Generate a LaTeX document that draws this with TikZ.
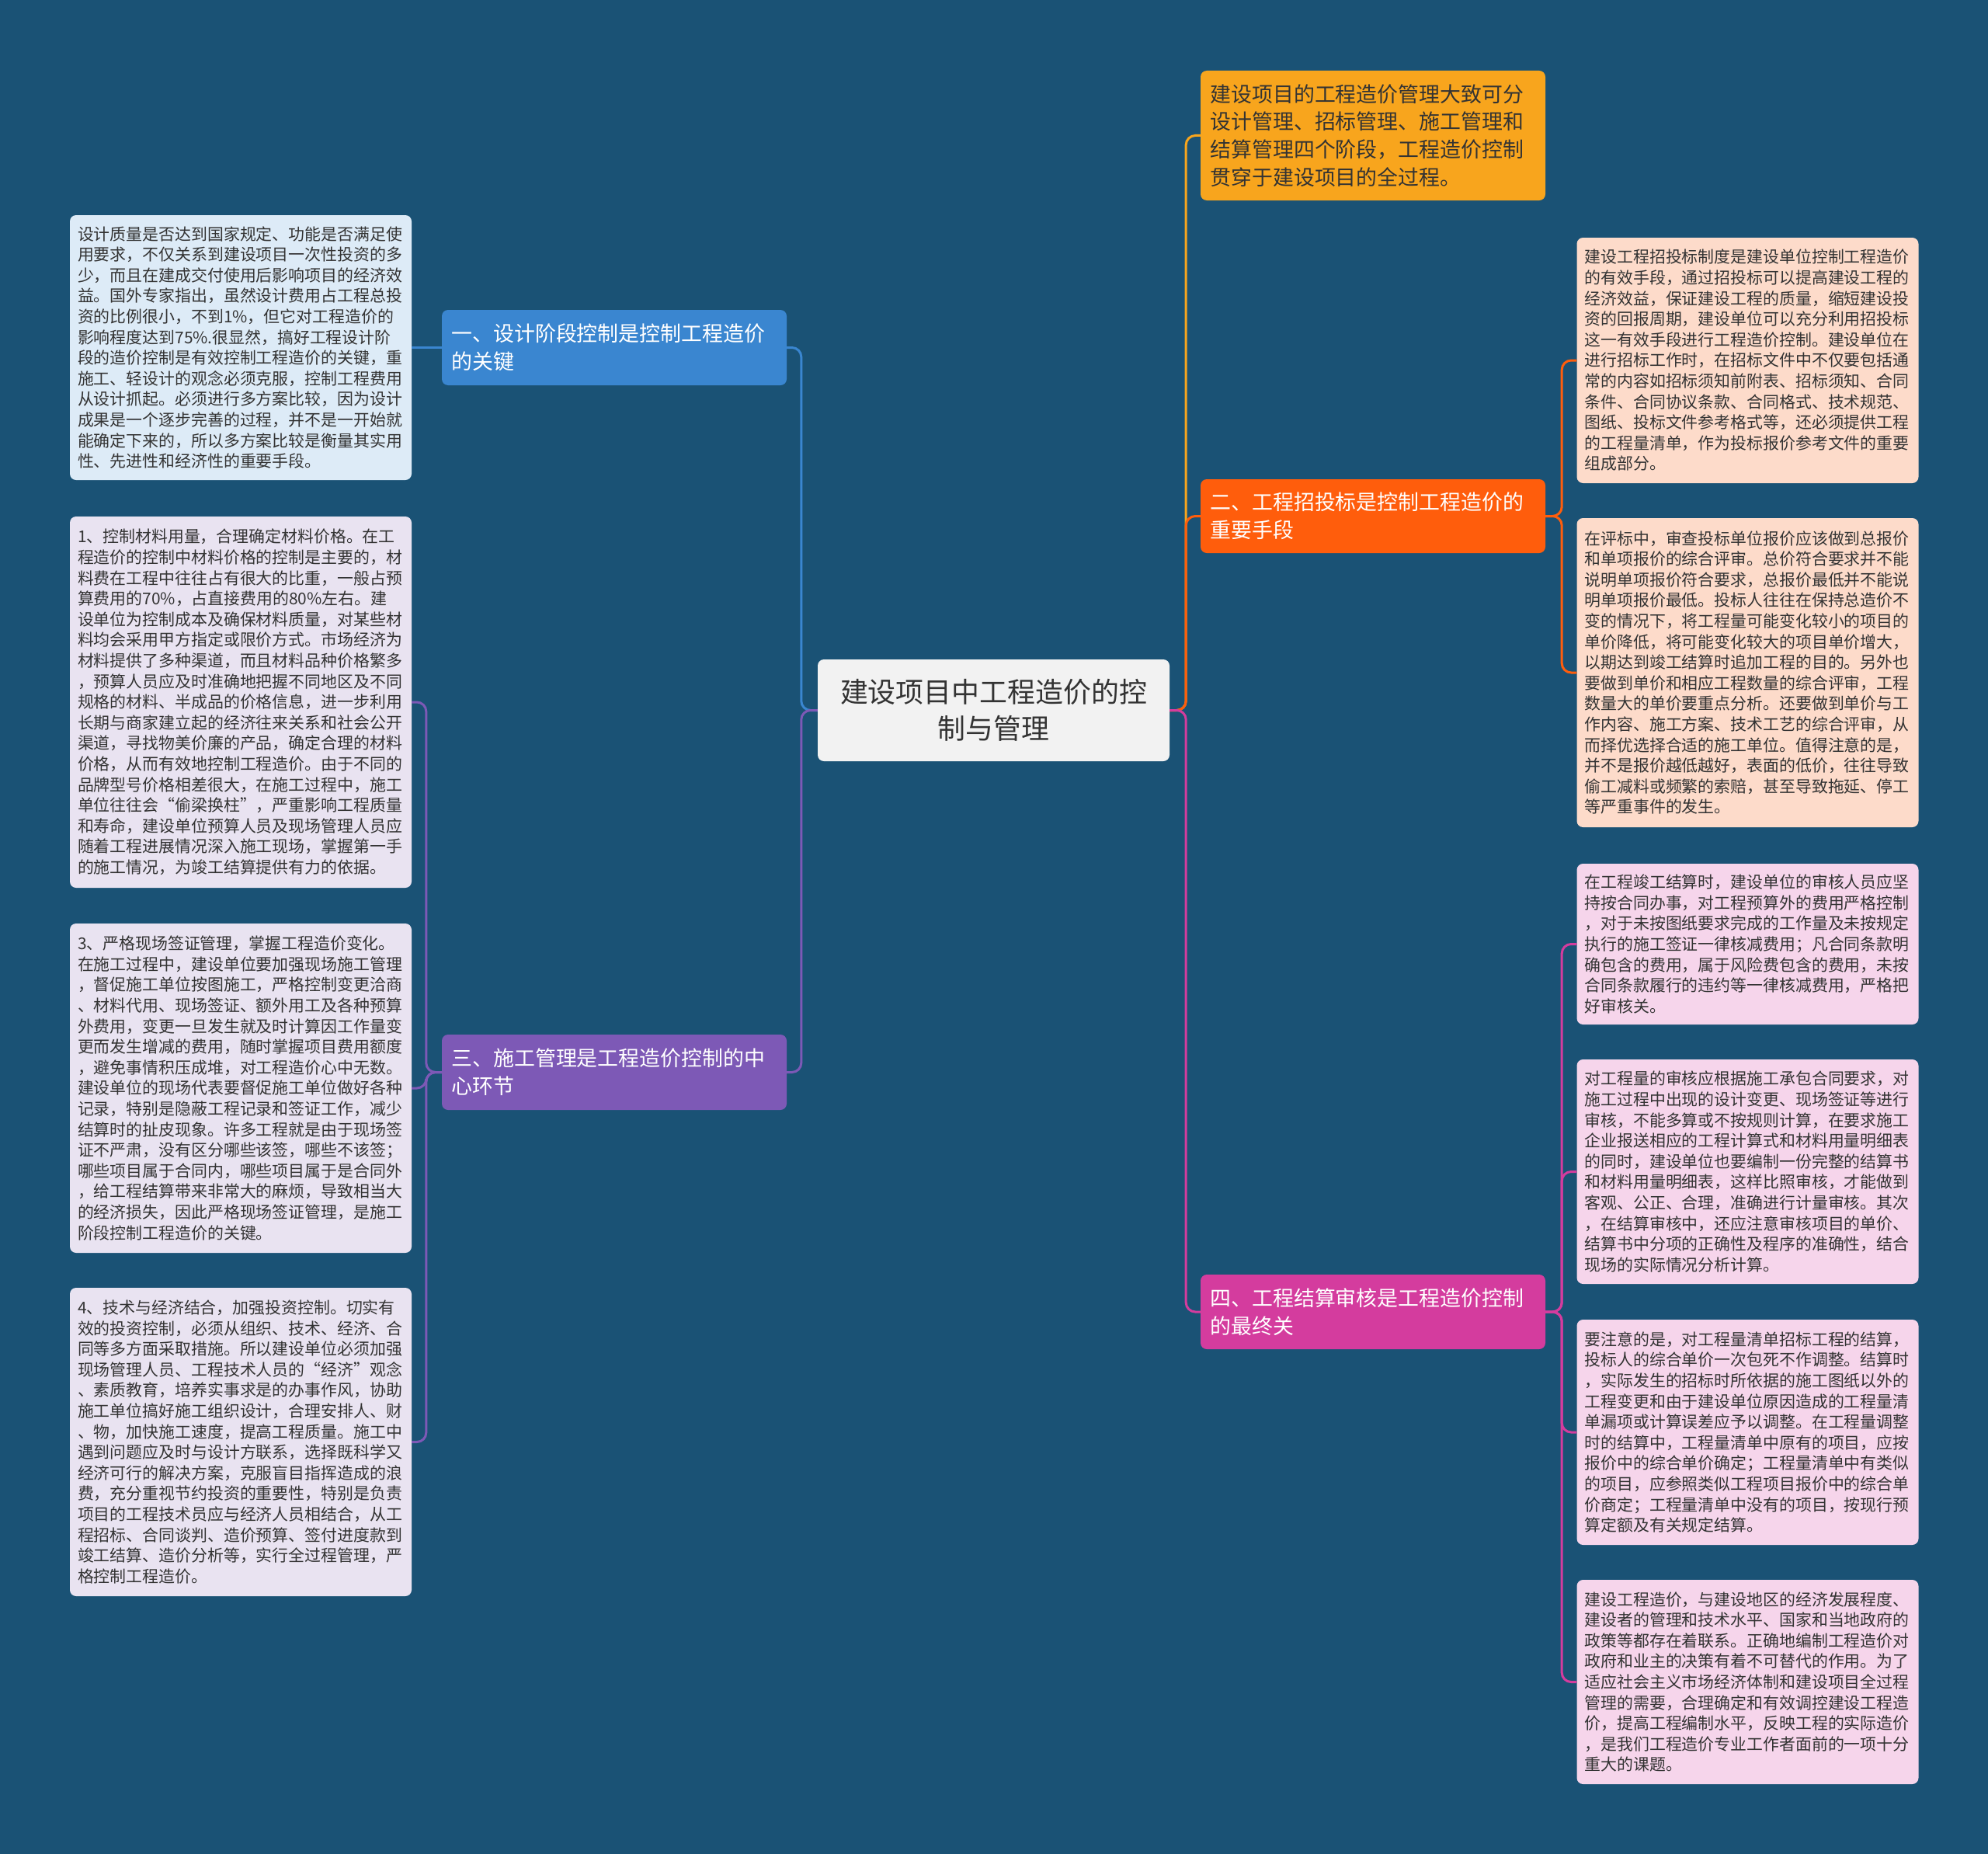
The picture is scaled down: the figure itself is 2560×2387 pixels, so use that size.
\documentclass[tikz,border=0pt]{standalone}
\usepackage{fontspec}
\newfontfamily\cjk{Noto Sans CJK SC}
\definecolor{bgc}{HTML}{1A5275}
\definecolor{rootfill}{HTML}{F2F2F2}
\definecolor{darktext}{HTML}{333333}
\definecolor{cyellow}{HTML}{F8A51D}
\definecolor{corange}{HTML}{FF5D0C}
\definecolor{cmagenta}{HTML}{D43C9E}
\definecolor{cblue}{HTML}{3A86D0}
\definecolor{cpurple}{HTML}{7D59B6}
\definecolor{lightblue}{HTML}{DDEBF7}
\definecolor{lavender}{HTML}{E9E3F1}
\definecolor{peach}{HTML}{FDDBCA}
\definecolor{pink}{HTML}{F6D5EB}
\tikzset{
  box/.style={rounded corners=8pt, inner ysep=0pt, align=left, anchor=center},
  leaf/.style={box, inner xsep=10pt, text width=420pt, text=darktext,
    font=\cjk\fontsize{20.9}{26.6}\selectfont},
  branch/.style={box, inner xsep=12.5pt, text width=419pt, minimum width=444pt,
    text=white, font=\cjk\fontsize{26.9}{35.8}\selectfont},
  rootbox/.style={box, align=center, fill=rootfill, text=darktext, minimum width=453pt,
    minimum height=131pt, font=\cjk\fontsize{35.9}{46.6}\selectfont},
  ln/.style={line width=3pt, rounded corners=12pt},
}
\begin{document}
\begin{tikzpicture}[x=1pt, y=-1pt]
\fill[bgc] (0,0) rectangle (2560,2387);
\useasboundingbox (0,0) rectangle (2560,2387);

% root
\node[rootbox] (root) at (1279.5,914.5) {建设项目中工程造价的控\\制与管理};

% main branches
\node[branch, fill=cblue, minimum height=97pt] (b1) at (791,447.5)
  {一、设计阶段控制是控制工程造价\\的关键};
\node[branch, fill=cpurple, minimum height=97pt] (b3) at (791,1380.5)
  {三、施工管理是工程造价控制的中\\心环节};
\node[branch, fill=cyellow, text=darktext, minimum height=167pt] (y) at (1768,174.5)
  {建设项目的工程造价管理大致可分\\设计管理、招标管理、施工管理和\\结算管理四个阶段，工程造价控制\\贯穿于建设项目的全过程。};
\node[branch, fill=corange, minimum height=95pt] (b2) at (1768,664.5)
  {二、工程招投标是控制工程造价的\\重要手段};
\node[branch, fill=cmagenta, minimum height=96pt] (b4) at (1768,1689)
  {四、工程结算审核是工程造价控制\\的最终关};

% left leaves
\node[leaf, fill=lightblue, minimum height=341pt] (lt) at (310,447.5)
  {设计质量是否达到国家规定、功能是否满足使\\
   用要求，不仅关系到建设项目一次性投资的多\\
   少，而且在建成交付使用后影响项目的经济效\\
   益。国外专家指出，虽然设计费用占工程总投\\
   资的比例很小，不到1\%，但它对工程造价的\\
   影响程度达到75\%.很显然，搞好工程设计阶\\
   段的造价控制是有效控制工程造价的关键，重\\
   施工、轻设计的观念必须克服，控制工程费用\\
   从设计抓起。必须进行多方案比较，因为设计\\
   成果是一个逐步完善的过程，并不是一开始就\\
   能确定下来的，所以多方案比较是衡量其实用\\
   性、先进性和经济性的重要手段。};
\node[leaf, fill=lavender, minimum height=478pt] (l1) at (310,904)
  {1、控制材料用量，合理确定材料价格。在工\\
   程造价的控制中材料价格的控制是主要的，材\\
   料费在工程中往往占有很大的比重，一般占预\\
   算费用的70\%，占直接费用的80\%左右。建\\
   设单位为控制成本及确保材料质量，对某些材\\
   料均会采用甲方指定或限价方式。市场经济为\\
   材料提供了多种渠道，而且材料品种价格繁多\\
   ，预算人员应及时准确地把握不同地区及不同\\
   规格的材料、半成品的价格信息，进一步利用\\
   长期与商家建立起的经济往来关系和社会公开\\
   渠道，寻找物美价廉的产品，确定合理的材料\\
   价格，从而有效地控制工程造价。由于不同的\\
   品牌型号价格相差很大，在施工过程中，施工\\
   单位往往会“偷梁换柱”，严重影响工程质量\\
   和寿命，建设单位预算人员及现场管理人员应\\
   随着工程进展情况深入施工现场，掌握第一手\\
   的施工情况，为竣工结算提供有力的依据。};
\node[leaf, fill=lavender, minimum height=424pt] (l3) at (310,1401)
  {3、严格现场签证管理，掌握工程造价变化。\\
   在施工过程中，建设单位要加强现场施工管理\\
   ，督促施工单位按图施工，严格控制变更洽商\\
   、材料代用、现场签证、额外用工及各种预算\\
   外费用，变更一旦发生就及时计算因工作量变\\
   更而发生增减的费用，随时掌握项目费用额度\\
   ，避免事情积压成堆，对工程造价心中无数。\\
   建设单位的现场代表要督促施工单位做好各种\\
   记录，特别是隐蔽工程记录和签证工作，减少\\
   结算时的扯皮现象。许多工程就是由于现场签\\
   证不严肃，没有区分哪些该签，哪些不该签；\\
   哪些项目属于合同内，哪些项目属于是合同外\\
   ，给工程结算带来非常大的麻烦，导致相当大\\
   的经济损失，因此严格现场签证管理，是施工\\
   阶段控制工程造价的关键。};
\node[leaf, fill=lavender, minimum height=397pt] (l4) at (310,1856.5)
  {4、技术与经济结合，加强投资控制。切实有\\
   效的投资控制，必须从组织、技术、经济、合\\
   同等多方面采取措施。所以建设单位必须加强\\
   现场管理人员、工程技术人员的“经济”观念\\
   、素质教育，培养实事求是的办事作风，协助\\
   施工单位搞好施工组织设计，合理安排人、财\\
   、物，加快施工速度，提高工程质量。施工中\\
   遇到问题应及时与设计方联系，选择既科学又\\
   经济可行的解决方案，克服盲目指挥造成的浪\\
   费，充分重视节约投资的重要性，特别是负责\\
   项目的工程技术员应与经济人员相结合，从工\\
   程招标、合同谈判、造价预算、签付进度款到\\
   竣工结算、造价分析等，实行全过程管理，严\\
   格控制工程造价。};

% right leaves
\node[leaf, fill=peach, minimum height=316pt] (ra) at (2250.5,464)
  {建设工程招投标制度是建设单位控制工程造价\\
   的有效手段，通过招投标可以提高建设工程的\\
   经济效益，保证建设工程的质量，缩短建设投\\
   资的回报周期，建设单位可以充分利用招投标\\
   这一有效手段进行工程造价控制。建设单位在\\
   进行招标工作时，在招标文件中不仅要包括通\\
   常的内容如招标须知前附表、招标须知、合同\\
   条件、合同协议条款、合同格式、技术规范、\\
   图纸、投标文件参考格式等，还必须提供工程\\
   的工程量清单，作为投标报价参考文件的重要\\
   组成部分。};
\node[leaf, fill=peach, minimum height=398pt] (rb) at (2250.5,866)
  {在评标中，审查投标单位报价应该做到总报价\\
   和单项报价的综合评审。总价符合要求并不能\\
   说明单项报价符合要求，总报价最低并不能说\\
   明单项报价最低。投标人往往在保持总造价不\\
   变的情况下，将工程量可能变化较小的项目的\\
   单价降低，将可能变化较大的项目单价增大，\\
   以期达到竣工结算时追加工程的目的。另外也\\
   要做到单价和相应工程数量的综合评审，工程\\
   数量大的单价要重点分析。还要做到单价与工\\
   作内容、施工方案、技术工艺的综合评审，从\\
   而择优选择合适的施工单位。值得注意的是，\\
   并不是报价越低越好，表面的低价，往往导致\\
   偷工减料或频繁的索赔，甚至导致拖延、停工\\
   等严重事件的发生。};
\node[leaf, fill=pink, minimum height=207pt] (rc) at (2250.5,1215.5)
  {在工程竣工结算时，建设单位的审核人员应坚\\
   持按合同办事，对工程预算外的费用严格控制\\
   ，对于未按图纸要求完成的工作量及未按规定\\
   执行的施工签证一律核减费用；凡合同条款明\\
   确包含的费用，属于风险费包含的费用，未按\\
   合同条款履行的违约等一律核减费用，严格把\\
   好审核关。};
\node[leaf, fill=pink, minimum height=289pt] (rd) at (2250.5,1508.5)
  {对工程量的审核应根据施工承包合同要求，对\\
   施工过程中出现的设计变更、现场签证等进行\\
   审核，不能多算或不按规则计算，在要求施工\\
   企业报送相应的工程计算式和材料用量明细表\\
   的同时，建设单位也要编制一份完整的结算书\\
   和材料用量明细表，这样比照审核，才能做到\\
   客观、公正、合理，准确进行计量审核。其次\\
   ，在结算审核中，还应注意审核项目的单价、\\
   结算书中分项的正确性及程序的准确性，结合\\
   现场的实际情况分析计算。};
\node[leaf, fill=pink, minimum height=290pt] (re) at (2250.5,1844)
  {要注意的是，对工程量清单招标工程的结算，\\
   投标人的综合单价一次包死不作调整。结算时\\
   ，实际发生的招标时所依据的施工图纸以外的\\
   工程变更和由于建设单位原因造成的工程量清\\
   单漏项或计算误差应予以调整。在工程量调整\\
   时的结算中，工程量清单中原有的项目，应按\\
   报价中的综合单价确定；工程量清单中有类似\\
   的项目，应参照类似工程项目报价中的综合单\\
   价商定；工程量清单中没有的项目，按现行预\\
   算定额及有关规定结算。};
\node[leaf, fill=pink, minimum height=263pt] (rf) at (2250.5,2165.5)
  {建设工程造价，与建设地区的经济发展程度、\\
   建设者的管理和技术水平、国家和当地政府的\\
   政策等都存在着联系。正确地编制工程造价对\\
   政府和业主的决策有着不可替代的作用。为了\\
   适应社会主义市场经济体制和建设项目全过程\\
   管理的需要，合理确定和有效调控建设工程造\\
   价，提高工程编制水平，反映工程的实际造价\\
   ，是我们工程造价专业工作者面前的一项十分\\
   重大的课题。};

% connectors: root to branches
\begin{scope}[on background layer/.style={}]
\draw[ln, cblue] (root.west) -- ++(-21,0) |- (b1.east);
\draw[ln, cpurple] (root.west) -- ++(-21,0) |- (b3.east);
\draw[ln, cyellow] (root.east) -- ++(21,0) |- (y.west);
\draw[ln, corange] (root.east) -- ++(21,0) |- (b2.west);
\draw[ln, cmagenta] (root.east) -- ++(21,0) |- (b4.west);
% branches to leaves
\draw[ln, cblue] (b1.west) -- (lt.east);
\draw[ln, cpurple] (b3.west) -- ++(-20,0) |- (l1.east);
\draw[ln, cpurple] (b3.west) -- ++(-20,0) |- (l3.east);
\draw[ln, cpurple] (b3.west) -- ++(-20,0) |- (l4.east);
\draw[ln, corange] (b2.east) -- ++(21,0) |- (ra.west);
\draw[ln, corange] (b2.east) -- ++(21,0) |- (rb.west);
\draw[ln, cmagenta] (b4.east) -- ++(21,0) |- (rc.west);
\draw[ln, cmagenta] (b4.east) -- ++(21,0) |- (rd.west);
\draw[ln, cmagenta] (b4.east) -- ++(21,0) |- (re.west);
\draw[ln, cmagenta] (b4.east) -- ++(21,0) |- (rf.west);
\end{scope}
\end{tikzpicture}
\end{document}
